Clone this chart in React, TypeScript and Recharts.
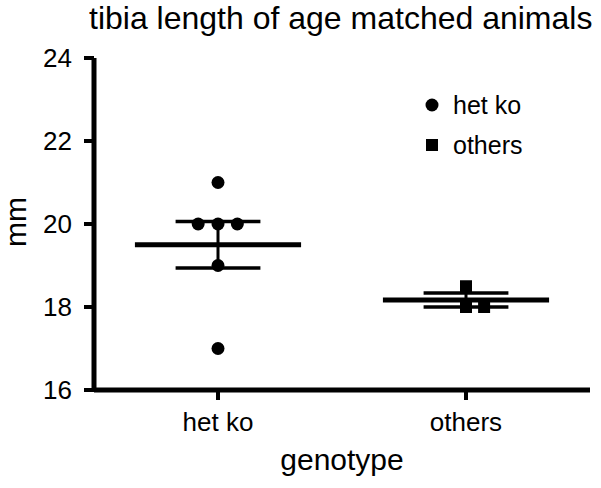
import {Legend, ReferenceLine, Scatter, ScatterChart, XAxis, YAxis} from 'recharts'
import {JSX} from 'react'

const categories = ['het ko', 'others']
const hetKoValues = [21, 20, 20, 20, 19, 17]
const hetKoJitter = [0, -0.08, 0, 0.078, 0, 0]
const othersValues = [18.5, 18, 18]
const othersJitter = [0, 0, 0.073]
const meanValues = [19.5, 18.17]
const semValues = [0.56, 0.17]
const yTicks = [16, 18, 20, 22, 24]

const FONT = '"Liberation Sans", Arial, Helvetica, sans-serif'
const MEAN_HALF = 0.335
const SEM_HALF = 0.171

// category i sits at x = i + 0.5 on a 0..2 numeric axis
const hetKoData = hetKoValues.map((v, i) => ({x: 0.5 + hetKoJitter[i], y: v}))
const othersData = othersValues.map((v, i) => ({x: 1.5 + othersJitter[i], y: v}))

const Dot = (props: any): JSX.Element => <circle cx={props.cx} cy={props.cy} r={6.5} fill='#000' />
const Square = (props: any): JSX.Element => (
	<rect x={props.cx - 6} y={props.cy - 6} width={12} height={12} fill='#000' />
)

const LegendBox = (): JSX.Element => (
	<div style={{fontFamily: FONT, fontSize: 25, color: '#000'}}>
		{categories.map((name, i) => (
			<div key={name} style={{display: 'flex', alignItems: 'center', height: 40}}>
				<svg width={14} height={14} style={{marginRight: 14}}>
					{i === 0 ? <circle cx={7} cy={7} r={6.5} fill='#000' /> : <rect x={1} y={1} width={12} height={12} fill='#000' />}
				</svg>
				<span>{name}</span>
			</div>
		))}
	</div>
)

const App = (): JSX.Element => {
	return (
		<div style={{position: 'absolute', left: 0, top: 0, width: 601, height: 488, background: '#fff', overflow: 'hidden'}}>
			{/* title */}
			<div
				style={{
					position: 'absolute',
					left: 89,
					top: 0,
					fontFamily: FONT,
					fontSize: 32,
					color: '#000',
					whiteSpace: 'nowrap',
				}}
			>
				tibia length of age matched animals
			</div>
			<ScatterChart width={601} height={488} margin={{top: 58, right: 11, bottom: 0, left: 0}}>
				<XAxis
					type='number'
					dataKey='x'
					domain={[0, 2]}
					ticks={[0.5, 1.5]}
					tickFormatter={(v: number) => categories[Math.floor(v)]}
					height={98}
					axisLine={{stroke: '#000', strokeWidth: 5}}
					tickLine={{stroke: '#000', strokeWidth: 4}}
					tickSize={10}
					tickMargin={13}
					tick={{fill: '#000', fontSize: 26, fontFamily: FONT}}
					label={{value: 'genotype', position: 'insideBottom', offset: 18, fill: '#000', fontSize: 30, fontFamily: FONT}}
				/>
				<YAxis
					type='number'
					dataKey='y'
					domain={[16, 24]}
					ticks={yTicks}
					width={94}
					axisLine={{stroke: '#000', strokeWidth: 5}}
					tickLine={{stroke: '#000', strokeWidth: 4}}
					tickSize={10}
					tickMargin={12}
					tick={{fill: '#000', fontSize: 26, fontFamily: FONT}}
					label={{
						content: () => (
							<text
								x={26}
								y={222}
								transform='rotate(-90 26 222)'
								textAnchor='middle'
								fontSize={30}
								fontFamily={FONT}
								fill='#000'
							>
								mm
							</text>
						),
					}}
				/>
				{meanValues.map((m, i) => (
					<ReferenceLine
						key={`mean-${i}`}
						segment={[{x: i + 0.5 - MEAN_HALF, y: m}, {x: i + 0.5 + MEAN_HALF, y: m}]}
						stroke='#000'
						strokeWidth={5}
					/>
				))}
				{meanValues.map((m, i) => (
					<ReferenceLine
						key={`semhi-${i}`}
						segment={[{x: i + 0.5 - SEM_HALF, y: m + semValues[i]}, {x: i + 0.5 + SEM_HALF, y: m + semValues[i]}]}
						stroke='#000'
						strokeWidth={3.5}
					/>
				))}
				{meanValues.map((m, i) => (
					<ReferenceLine
						key={`semlo-${i}`}
						segment={[{x: i + 0.5 - SEM_HALF, y: m - semValues[i]}, {x: i + 0.5 + SEM_HALF, y: m - semValues[i]}]}
						stroke='#000'
						strokeWidth={3.5}
					/>
				))}
				{meanValues.map((m, i) => (
					<ReferenceLine
						key={`semv-${i}`}
						segment={[{x: i + 0.5, y: m - semValues[i]}, {x: i + 0.5, y: m + semValues[i]}]}
						stroke='#000'
						strokeWidth={3}
					/>
				))}
				<Scatter name='het ko' data={hetKoData} fill='#000' shape={Dot} isAnimationActive={false} />
				<Scatter name='others' data={othersData} fill='#000' shape={Square} isAnimationActive={false} />
				<Legend
					layout='vertical'
					align='center'
					verticalAlign='middle'
					content={LegendBox}
					wrapperStyle={{left: 425, top: 85, width: 'auto'}}
				/>
			</ScatterChart>
		</div>
	)
}

export default App
